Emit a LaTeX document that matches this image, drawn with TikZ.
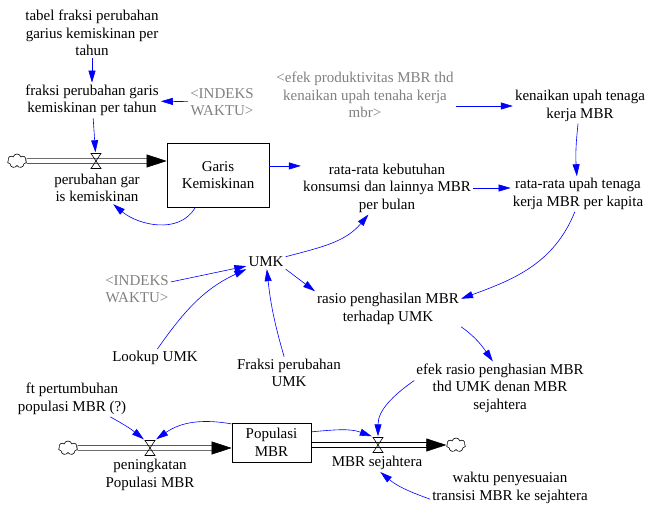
\documentclass[tikz,border=0pt]{standalone}
\usepackage{fontspec}
\setmainfont{Liberation Serif}
\usetikzlibrary{arrows.meta,shapes.symbols,backgrounds}
\definecolor{linkblue}{RGB}{0,0,255}
\definecolor{ghostgray}{RGB}{128,128,128}
\tikzset{
  var/.style={align=center,inner sep=2pt,font=\fontsize{15}{17.5}\selectfont},
  ghost/.style={var,text=ghostgray},
  stock/.style={var,draw=black,line width=0.7pt,inner sep=0pt},
  valve/.style={minimum width=12pt,minimum height=17pt,inner sep=0pt,
    path picture={\draw[line width=0.6pt]
      ([xshift=1pt,yshift=-1pt]path picture bounding box.north west)--
      ([xshift=-1pt,yshift=-1pt]path picture bounding box.north east)--
      ([xshift=1pt,yshift=1pt]path picture bounding box.south west)--
      ([xshift=-1pt,yshift=1pt]path picture bounding box.south east)--cycle;}},
  sink/.style={cloud,draw=black,line width=0.6pt,cloud puffs=7,aspect=1.4,
    minimum width=19pt,minimum height=14pt,inner sep=0pt},
  link/.style={-{Triangle[length=12pt,width=7pt]},draw=linkblue,line width=0.6pt},
  pipe/.style={draw=black,double,double distance=4pt,line width=0.6pt},
  pipehead/.style={-{Triangle[length=20pt,width=13pt]},draw=black,line width=0.6pt}
}
\begin{document}
\begin{tikzpicture}[x=1pt,y=-1pt]
  \useasboundingbox (0,0) rectangle (658,518);
  % stocks, valves and clouds
  \node[stock,minimum width=102pt,minimum height=64pt] (boxGK) at (218,175) {Garis\\Kemiskinan};
  \node[stock,minimum width=79pt,minimum height=39pt] (boxPop) at (271.5,442.5) {Populasi\\MBR};
  \node[valve] (vGK) at (96,161) {};
  \node[valve] (vPen) at (150,448) {};
  \node[valve] (vSej) at (378,445) {};
  \node[sink] (cloudA) at (17,161) {};
  \node[sink] (cloudP) at (68,448) {};
  \node[sink] (cloudS) at (456,445) {};
  \node[var] (lblGK) at (97,188) {perubahan gar\\is kemiskinan};
  \node[var] (lblPen) at (150,475) {peningkatan\\Populasi MBR};
  \node[var] (lblSej) at (377,463) {MBR sejahtera};
  % auxiliaries
  \node[var] (tabel) at (92,33) {tabel fraksi perubahan\\garius kemiskinan per\\tahun};
  \node[var] (fraksiGK) at (92,100.5) {fraksi perubahan garis\\kemiskinan per tahun};
  \node[ghost] (indeksA) at (222,102) {\textless INDEKS\\WAKTU\textgreater};
  \node[ghost] (efekprod) at (365,95) {\textless efek produktivitas MBR thd\\kenaikan upah tenaha kerja\\mbr\textgreater};
  \node[var] (kenaikan) at (580,106) {kenaikan upah tenaga\\kerja MBR};
  \node[var] (kebutuhan) at (387,188) {rata-rata kebutuhan\\konsumsi dan lainnya MBR\\per bulan};
  \node[var] (rataupah) at (578,194) {rata-rata upah tenaga\\kerja MBR per kapita};
  \node[var] (umk) at (266,262) {UMK};
  \node[ghost] (indeksB) at (137,289) {\textless INDEKS\\WAKTU\textgreater};
  \node[var] (rasio) at (388,309) {rasio penghasilan MBR\\terhadap UMK};
  \node[var] (lookup) at (155,358) {Lookup UMK};
  \node[var] (fraksiUMK) at (289,373) {Fraksi perubahan\\UMK};
  \node[var] (efekrasio) at (500,388) {efek rasio penghasian MBR\\thd UMK denan MBR\\sejahtera};
  \node[var] (ft) at (72,399) {ft pertumbuhan\\populasi MBR (?)};
  \node[var] (waktu) at (510,488) {waktu penyesuaian\\transisi MBR ke sejahtera};
  % flows
  \path (vGK.center -| boxGK.west) coordinate (headGK) ++(-19pt,0) coordinate (tailGK);
  \path (vPen.center -| boxPop.west) coordinate (headPop) ++(-19pt,0) coordinate (tailPop);
  \path (vSej.center -| cloudS.west) coordinate (headS) ++(-19pt,0) coordinate (tailS);
  \begin{scope}[on background layer]
    \draw[pipe] (cloudA) -- (vGK.center) -- (tailGK);
    \draw[pipe] (cloudP) -- (vPen.center) -- (tailPop);
    \draw[pipe] (vSej.center -| boxPop.east) -- (vSej.center) -- (tailS);
  \end{scope}
  \foreach \t/\h in {GK/GK,Pop/Pop,S/S}
    \draw[pipehead] (tail\t) -- (head\h);
  % links
  \foreach \a/\b in {tabel/fraksiGK,indeksA/fraksiGK,fraksiGK/vGK,indeksB/umk}
    \draw[link] (\a) -- (\b);
  \draw[link] (boxGK.-125) to[out=-120,in=-40] (lblGK.-45);
  \draw[link] (boxGK.10) -- (boxGK.10 -| kebutuhan.west);
  \draw[link] (efekprod.east |- kenaikan) -- (kenaikan.west);
  \draw[link] (kenaikan) to[bend right=5] (rataupah);
  \draw[link] (kebutuhan.east) -- (kebutuhan.east -| rataupah.west);
  \draw[link] (rataupah.-100) to[out=-112,in=20] (rasio.8);
  \draw[link] (umk.15) to[out=15,in=-130] (kebutuhan.-125);
  \draw[link] (lookup.75) to[out=55,in=-155] (umk.south west);
  \draw[link] (fraksiUMK) to[bend left=5] (umk);
  \draw[link] (umk.south east) -- (rasio.north west);
  \draw[link] (rasio.south east) to[out=-35,in=125] (efekrasio.105);
  \draw[link] (efekrasio.175) to[out=-145,in=90] (vSej.north);
  \draw[link] (boxPop.15) to[out=5,in=160] (vSej.north west);
  \draw[link] (waktu.188) to[out=160,in=-40] (lblSej.-70);
  \draw[link] (ft.-25) to[bend left=5] (vPen.north west);
  \draw[link] (boxPop.155) to[out=170,in=35] (vPen.north east);
\end{tikzpicture}
\end{document}
